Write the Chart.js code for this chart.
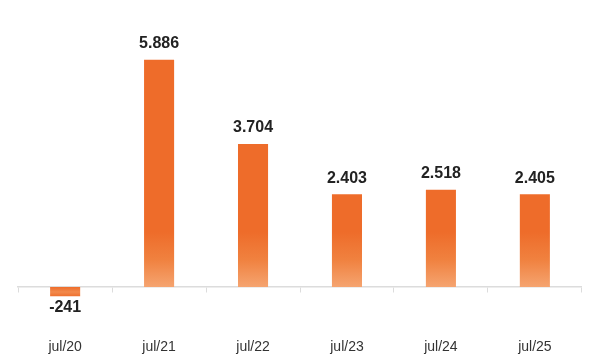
<!DOCTYPE html>
<html>
<head>
<meta charset="utf-8">
<script src="https://cdn.jsdelivr.net/npm/chart.js@4"></script>
<style>
  html, body { margin: 0; padding: 0; background: #fff; }
  #wrap { width: 600px; height: 362px; position: relative; }
</style>
</head>
<body>
<div id="wrap"><canvas id="chart"></canvas></div>
<script>
// ── 데이터 ───────────────────────────────
const labels = ["jul/20", "jul/21", "jul/22", "jul/23", "jul/24", "jul/25"];
const values = [-241, 5886, 3704, 2403, 2518, 2405];
const valueText = ["-241", "5.886", "3.704", "2.403", "2.518", "2.405"];

const FONT = "'Liberation Sans', Arial, sans-serif";

// 막대 그라데이션 (0선 근처는 밝게)
function barFill(ctx) {
  const chart = ctx.chart;
  if (!chart.chartArea) return "#EE6C2A";
  const zero = chart.scales.y.getPixelForValue(0);
  if (values[ctx.dataIndex] < 0) {
    const g = chart.ctx.createLinearGradient(0, zero, 0, zero + 10);
    g.addColorStop(0, "#EE6C2A");
    g.addColorStop(0.5, "#F28A4C");
    g.addColorStop(1, "#EE6C2A");
    return g;
  }
  const g = chart.ctx.createLinearGradient(0, zero, 0, zero - 55);
  g.addColorStop(0, "#F5A470");
  g.addColorStop(0.5, "#F0813F");
  g.addColorStop(1, "#EE6C2A");
  return g;
}

// 값 라벨
const valueLabels = {
  id: "valueLabels",
  afterDatasetsDraw(chart) {
    const { ctx } = chart;
    const meta = chart.getDatasetMeta(0);
    ctx.save();
    ctx.font = "bold 16px " + FONT;
    ctx.fillStyle = "#222";
    ctx.textAlign = "center";
    meta.data.forEach((bar, i) => {
      if (values[i] >= 0) {
        ctx.textBaseline = "bottom";
        ctx.fillText(valueText[i], bar.x, bar.y - 8);
      } else {
        ctx.textBaseline = "top";
        ctx.fillText(valueText[i], bar.x, bar.y + 3);
      }
    });
    ctx.restore();
  }
};

new Chart(document.getElementById("chart"), {
  type: "bar",
  data: {
    labels,
    datasets: [{
      data: values,
      backgroundColor: barFill,
      borderWidth: 0,
      categoryPercentage: 1,
      barPercentage: 0.32,
    }],
  },
  options: {
    responsive: true,
    maintainAspectRatio: false,
    animation: false,
    layout: { padding: { left: 18, right: 17, top: 20, bottom: 62 } },
    plugins: { legend: { display: false }, tooltip: { enabled: false } },
    scales: {
      x: {
        position: { y: 0 },
        grid: { display: true, drawOnChartArea: false, drawTicks: true, tickLength: 5, color: "#dcdcdc", offset: true },
        border: { display: true, color: "#dcdcdc", width: 1.5 },
        ticks: { color: "#333", font: { family: FONT, size: 14 }, padding: 47 },
      },
      y: {
        display: false,
        min: -337,
        max: 6917,
      },
    },
  },
  plugins: [valueLabels],
});
</script>
</body>
</html>
